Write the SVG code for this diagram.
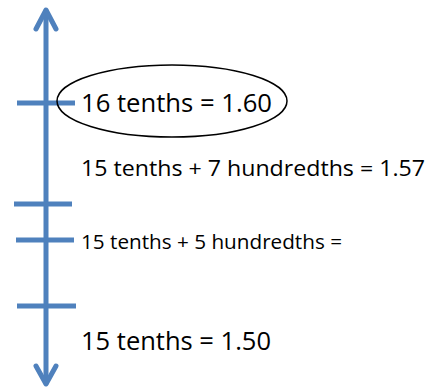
<svg xmlns="http://www.w3.org/2000/svg" width="432" height="388" viewBox="0 0 432 388">
<style>
.axis{stroke:#4f81bd;stroke-width:5;fill:none;stroke-linecap:round;stroke-linejoin:round}
.tick{stroke:#4f81bd;stroke-width:5;fill:none}
.lbl{font-family:"Open Sans","Liberation Sans",sans-serif;fill:#000}
</style>
<rect width="432" height="388" fill="#fff"/>
<g id="connectors">
<line class="axis" x1="46" y1="11" x2="46" y2="383"/>
<polyline class="axis" points="36,29 46,10 56,29"/>
<polyline class="axis" points="36,366 46,384 56,366"/>
</g>
<g id="tick1"><line class="tick" x1="17" y1="103" x2="75" y2="103"/></g>
<g id="tick2"><line class="tick" x1="14" y1="204" x2="72" y2="204"/></g>
<g id="tick3"><line class="tick" x1="16" y1="240" x2="74" y2="240"/></g>
<g id="tick4"><line class="tick" x1="17" y1="306" x2="76" y2="306"/></g>
<g id="node-160">
<ellipse cx="172" cy="101" rx="115" ry="36" fill="none" stroke="#000" stroke-width="1.5"/>
<text class="lbl" x="81" y="112" font-size="25" textLength="191" lengthAdjust="spacingAndGlyphs">16 tenths = 1.60</text>
</g>
<g id="node-157">
<text class="lbl" x="81" y="176" font-size="22.5" textLength="344" lengthAdjust="spacingAndGlyphs">15 tenths + 7 hundredths = 1.57</text>
</g>
<g id="node-155">
<text class="lbl" x="81" y="249" font-size="20.5" textLength="261" lengthAdjust="spacingAndGlyphs">15 tenths + 5 hundredths =</text>
</g>
<g id="node-150">
<text class="lbl" x="81" y="350" font-size="25" textLength="190" lengthAdjust="spacingAndGlyphs">15 tenths = 1.50</text>
</g>
</svg>
